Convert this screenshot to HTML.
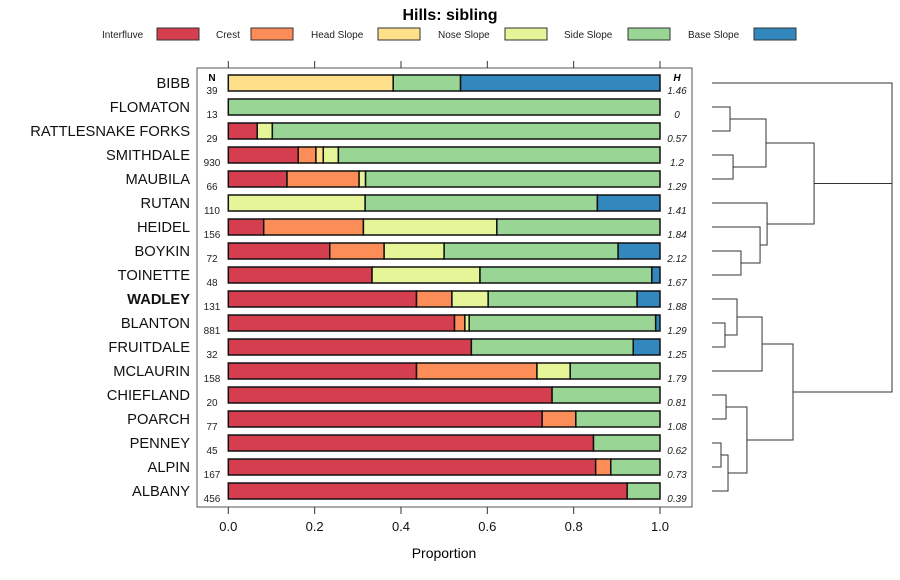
<!DOCTYPE html>
<html><head><meta charset="utf-8"><style>
body{margin:0;background:#fff;}
svg{display:block;font-family:"Liberation Sans",sans-serif;}
</style></head><body>
<svg id="chart" width="900" height="580" viewBox="0 0 900 580" xmlns="http://www.w3.org/2000/svg">
<text x="450" y="20" text-anchor="middle" font-size="16" font-weight="bold">Hills: sibling</text>
<g id="legend"></g>
<rect x="197" y="68" width="495" height="439" fill="none" stroke="#555" stroke-width="1"/>
<g id="bars"></g>
<g id="labels"></g>
<g id="axis"></g>
<g id="dendro"></g>
<text x="444" y="558" text-anchor="middle" font-size="14">Proportion</text>
<text x="212" y="81" text-anchor="middle" font-size="10" font-weight="bold">N</text>
<text x="677" y="81" text-anchor="middle" font-size="10" font-weight="bold" font-style="italic">H</text>
</svg>
<script>
const classes = ["Interfluve","Crest","Head Slope","Nose Slope","Side Slope","Base Slope"];
const colors = ["#D53E4F","#FC8D59","#FEE08B","#E6F598","#99D594","#3288BD"];
const series = ["BIBB","FLOMATON","RATTLESNAKE FORKS","SMITHDALE","MAUBILA","RUTAN","HEIDEL","BOYKIN","TOINETTE","WADLEY","BLANTON","FRUITDALE","MCLAURIN","CHIEFLAND","POARCH","PENNEY","ALPIN","ALBANY"];
const nVals = [39,13,29,930,66,110,156,72,48,131,881,32,158,20,77,45,167,456];
const hVals = ["1.46","0","0.57","1.2","1.29","1.41","1.84","2.12","1.67","1.88","1.29","1.25","1.79","0.81","1.08","0.62","0.73","0.39"];
const interfluve = [0,0,0.067,0.162,0.136,0,0.082,0.235,0.333,0.436,0.524,0.563,0.436,0.75,0.727,0.846,0.851,0.924];
const crest      = [0,0,0,0.041,0.167,0,0.231,0.126,0,0.082,0.024,0,0.279,0,0.078,0,0.035,0];
const headSlope  = [0.382,0,0,0.017,0,0,0,0,0,0,0,0,0,0,0,0,0,0];
const noseSlope  = [0,0,0.035,0.035,0.015,0.317,0.309,0.139,0.250,0.084,0.010,0,0.077,0,0,0,0,0];
const sideSlope  = [0.156,1,0.898,0.745,0.682,0.538,0.378,0.403,0.398,0.345,0.432,0.375,0.208,0.25,0.195,0.154,0.114,0.076];
const baseSlope  = [0.462,0,0,0,0,0.145,0,0.097,0.019,0.053,0.010,0.062,0,0,0,0,0,0];
const xTicks = [0,0.2,0.4,0.6,0.8,1.0];
const xTickLabels = ["0.0","0.2","0.4","0.6","0.8","1.0"];
const mergeLeft  = [-2,-4,1,-8,-7,-6,3,-11,-10,9,-14,-16,12,11,10,7,-1];
const mergeRight = [-3,-5,2,-9,4,5,6,-12,8,-13,-15,-17,-18,13,14,15,16];
const mergeHeight= [0.10,0.117,0.30,0.161,0.267,0.306,0.567,0.072,0.139,0.278,0.078,0.05,0.089,0.194,0.45,1.0,1.0];

const NS="http://www.w3.org/2000/svg";
function mk(tag,attrs,parent){const e=document.createElementNS(NS,tag);for(const k in attrs)e.setAttribute(k,attrs[k]);parent.appendChild(e);return e;}
const x = v => 228.3 + v*431.7;
const y = i => 83 + i*24;
const dx = h => 712 + h*180;

const lg=document.getElementById('legend');
const legTextX=[102,216,311,438,564,688], legSwX=[157,251,378,505,628,754];
classes.forEach((c,i)=>{
  const t=mk('text',{x:legTextX[i],y:38,'font-size':10,fill:'#222'},lg);t.textContent=c;
  
  
  const r=mk('rect',{x:legSwX[i],y:28,width:42,height:12,fill:colors[i],stroke:'#333','stroke-width':1},lg);
  
  
});

const bg=document.getElementById('bars');
const all=[interfluve,crest,headSlope,noseSlope,sideSlope,baseSlope];
series.forEach((s,i)=>{
  let cum=0;
  all.forEach((arr,k)=>{
    const v=arr[i]; if(v<=0) return;
    const r=mk('rect',{x:x(cum),y:y(i)-8,width:x(cum+v)-x(cum),height:16,fill:colors[k],stroke:'#111','stroke-width':1.5},bg);
    
    
    cum+=v;
  });
});

const lb=document.getElementById('labels');
series.forEach((s,i)=>{
  const t=mk('text',{x:190,y:y(i)+5,'text-anchor':'end','font-size':14.7,fill:'#111'},lb);
  if(s==='WADLEY') t.setAttribute('font-weight','bold');
  t.textContent=s;
  
  
  const n=mk('text',{x:212,y:y(i)+11,'text-anchor':'middle','font-size':10,fill:'#222'},lb);n.textContent=nVals[i];
  
  
  const h=mk('text',{x:677,y:y(i)+11,'text-anchor':'middle','font-size':10,'font-style':'italic',fill:'#222'},lb);h.textContent=hVals[i];
  
  
});

const ax=document.getElementById('axis');
xTicks.forEach((v,i)=>{
  const a=mk('line',{x1:x(v),x2:x(v),y1:507,y2:514,stroke:'#333'},ax);
  
  
  const b=mk('line',{x1:x(v),x2:x(v),y1:61,y2:68,stroke:'#333'},ax);
  
  
  const t=mk('text',{x:x(v),y:531,'text-anchor':'middle','font-size':13,fill:'#111'},ax);t.textContent=xTickLabels[i];
  
  
});

const dg=document.getElementById('dendro');
const pos=[];
function node(id){ return id<0 ? [y(-id-1),0] : pos[id-1]; }
mergeLeft.forEach((l,m)=>{
  const a=node(l), b=node(mergeRight[m]), h=mergeHeight[m];
  const X=dx(h);
  const p=mk('polyline',{points:`${dx(a[1])},${a[0]} ${X},${a[0]} ${X},${b[0]} ${dx(b[1])},${b[0]}`,fill:'none',stroke:'#333','stroke-width':1},dg);
  
  
  pos.push([(a[0]+b[0])/2,h]);
});
</script>
</body></html>
